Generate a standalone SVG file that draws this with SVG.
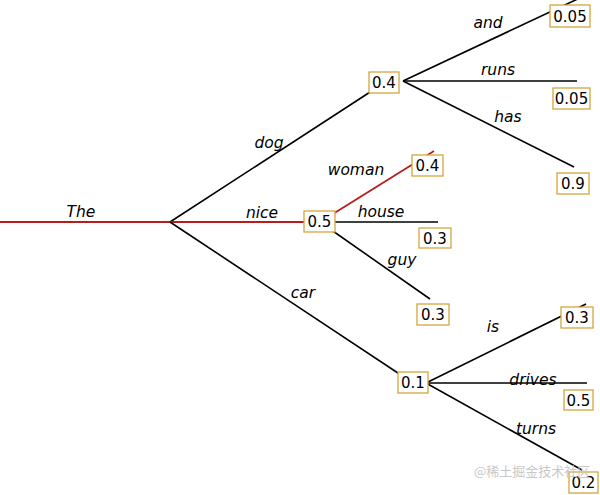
<svg xmlns="http://www.w3.org/2000/svg" width="600" height="495" viewBox="0 0 600 495">
<style>
.e{stroke:#000;stroke-width:1.6;fill:none}
.r{stroke:#b81c1c;stroke-width:1.8;fill:none}
.lb{font-family:"DejaVu Sans",sans-serif;font-style:italic;font-size:15.5px;text-anchor:middle;fill:#000}
.bx{fill:#fff;stroke:#d4a53c;stroke-width:1.3}
.bt{font-family:"DejaVu Sans",sans-serif;font-size:15px;text-anchor:middle;fill:#000}
</style>
<rect width="600" height="495" fill="#fff"/>
<g id="connectors">
<line class="r" x1="0" y1="222" x2="170" y2="222"/>
<line class="e" x1="170" y1="222" x2="384" y2="83"/>
<line class="r" x1="170" y1="222" x2="320" y2="222"/>
<line class="e" x1="170" y1="222" x2="413" y2="383"/>
<line class="e" x1="403" y1="81" x2="584" y2="-4"/>
<line class="e" x1="403" y1="81" x2="577" y2="81"/>
<line class="e" x1="403" y1="81" x2="574" y2="167"/>
<line class="r" x1="320" y1="222" x2="434" y2="151"/>
<line class="e" x1="320" y1="222" x2="438" y2="222"/>
<line class="e" x1="320" y1="222" x2="430" y2="299"/>
<line class="e" x1="426" y1="383" x2="586" y2="304"/>
<line class="e" x1="426" y1="383" x2="587" y2="383"/>
<line class="e" x1="426" y1="383" x2="582" y2="470"/>
<text class="lb" x="81" y="217">The</text>
<text class="lb" x="262" y="218">nice</text>
<text class="lb" x="269" y="148">dog</text>
<text class="lb" x="303" y="298">car</text>
<text class="lb" x="488" y="28">and</text>
<text class="lb" x="498" y="75">runs</text>
<text class="lb" x="508" y="122">has</text>
<text class="lb" x="356" y="175">woman</text>
<text class="lb" x="381" y="217">house</text>
<text class="lb" x="402" y="265">guy</text>
<text class="lb" x="493" y="332">is</text>
<text class="lb" x="533" y="385">drives</text>
<text class="lb" x="536" y="434">turns</text>
</g>
<g id="n_dog"><rect class="bx" x="369" y="72" width="30" height="21"/><text class="bt" x="384" y="88">0.4</text></g>
<g id="n_nice"><rect class="bx" x="304" y="211" width="31" height="21"/><text class="bt" x="319.5" y="227">0.5</text></g>
<g id="n_car"><rect class="bx" x="398" y="372" width="30" height="21"/><text class="bt" x="413" y="388">0.1</text></g>
<g id="n_and"><rect class="bx" x="550" y="5" width="40" height="22"/><text class="bt" x="570" y="21.5">0.05</text></g>
<g id="n_runs"><rect class="bx" x="553" y="88" width="37" height="21"/><text class="bt" x="571.5" y="104">0.05</text></g>
<g id="n_has"><rect class="bx" x="557" y="173" width="32" height="21"/><text class="bt" x="573" y="189">0.9</text></g>
<g id="n_woman"><rect class="bx" x="412" y="155" width="31" height="21"/><text class="bt" x="427.5" y="171">0.4</text></g>
<g id="n_house"><rect class="bx" x="419" y="228" width="32" height="20"/><text class="bt" x="435" y="243.5">0.3</text></g>
<g id="n_guy"><rect class="bx" x="417" y="304" width="32" height="21"/><text class="bt" x="433" y="320">0.3</text></g>
<g id="n_is"><rect class="bx" x="561" y="307" width="32" height="21"/><text class="bt" x="577" y="323">0.3</text></g>
<g id="n_drives"><rect class="bx" x="564" y="390" width="29" height="20"/><text class="bt" x="578.5" y="405.5">0.5</text></g>
<g id="n_turns"><rect class="bx" x="569" y="472" width="29" height="21"/><text class="bt" x="583.5" y="488">0.2</text></g>
<text x="474" y="476" font-family="'Noto Sans CJK SC',sans-serif" font-size="13" fill="#c8c8c8">@稀土掘金技术社区</text>
</svg>
